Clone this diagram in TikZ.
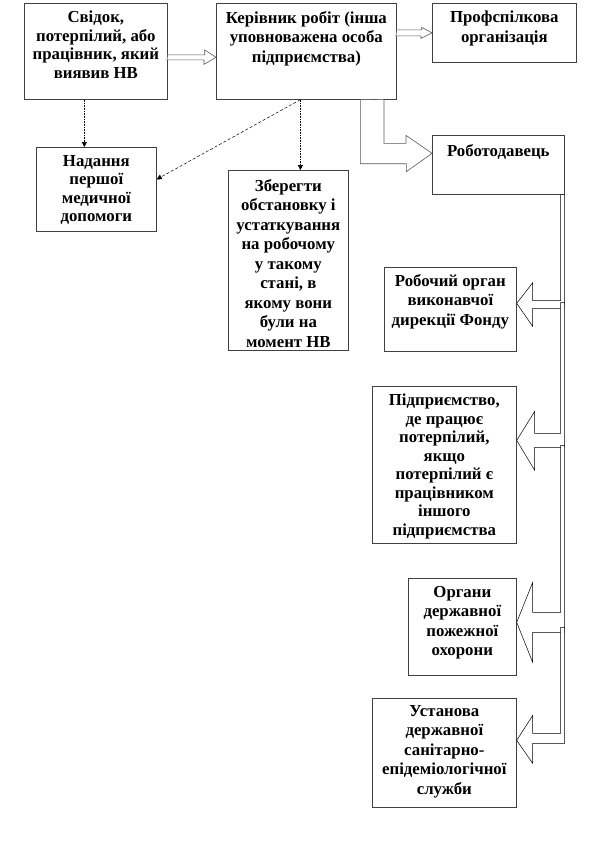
\documentclass[tikz,border=0pt]{standalone}
\usepackage{fontspec}
\setmainfont{Liberation Serif}
\usetikzlibrary{calc,arrows.meta}
\begin{document}
\begin{tikzpicture}[x=1pt,y=-1pt,
  box/.style={draw=black!75,line width=0.7pt,anchor=north west,inner sep=0pt},
  txt/.style={anchor=north,align=center,inner sep=0pt,font=\fontsize{16.8}{19.5}\selectfont\bfseries},
  tighttxt/.style={txt,font=\fontsize{16.8}{18.5}\selectfont\bfseries},
  blk/.style={draw=black!65,line width=0.6pt,fill=white,line join=miter},
  trk/.style={draw=black,line width=0.5pt,fill=white},
  dotarr/.style={draw=black,line width=0.6pt,densely dotted,-{Triangle[length=5pt,width=5pt]}},
  dasharr/.style={draw=black,line width=0.5pt,densely dashed,-{Triangle[length=5pt,width=5pt]}}]
\useasboundingbox (0,0) rectangle (612,843);
\fill[white] (0,0) rectangle (612,843);
% boxes
\node[box,minimum width=143pt,minimum height=96pt] (b1) at (24,3) {};
\node[box,minimum width=180pt,minimum height=96pt] (b2) at (216,3) {};
\node[box,minimum width=144pt,minimum height=59pt] (b3) at (432,3) {};
\node[box,minimum width=132pt,minimum height=59pt] (b4) at (432,135) {};
\node[box,minimum width=120pt,minimum height=84pt] (b5) at (36,147) {};
\node[box,minimum width=120pt,minimum height=180pt] (b6) at (228,170) {};
\node[box,minimum width=132pt,minimum height=84pt] (b7) at (384,267) {};
\node[box,minimum width=144pt,minimum height=157pt] (b8) at (372,386) {};
\node[box,minimum width=108pt,minimum height=97pt] (b9) at (408,578) {};
\node[box,minimum width=144pt,minimum height=109pt] (b10) at (372,698) {};
% texts
\node[tighttxt] (t1) at ($(b1.north)+(0,8)$) {Свідок,\\потерпілий, або\\працівник, який\\виявив НВ};
\node[txt] (t2) at ($(b2.north)+(0,8)$) {Керівник робіт (інша\\уповноважена особа\\підприємства)};
\node[txt] (t3) at ($(b3.north)+(0,8)$) {Профспілкова\\організація};
\node[txt] (t4) at ($(b4.north)+(0,9)$) {Роботодавець};
\node[tighttxt] (t5) at ($(b5.north)+(0,8)$) {Надання\\першої\\медичної\\допомоги};
\node[txt] (t6) at ($(b6.north)+(0,9)$) {Зберегти\\обстановку і\\устаткування\\на робочому\\у такому\\стані, в\\якому вони\\були на\\момент НВ};
\node[txt] (t7) at ($(b7.north)+(0,7)$) {Робочий орган\\виконавчої\\дирекції Фонду};
\node[tighttxt] (t8) at ($(b8.north)+(0,8)$) {Підприємство,\\де працює\\потерпілий,\\якщо\\потерпілий є\\працівником\\іншого\\підприємства};
\node[txt] (t9) at ($(b9.north)+(0,8)$) {Органи\\державної\\пожежної\\охорони};
\node[txt] (t10) at ($(b10.north)+(0,7)$) {Установа\\державної\\санітарно-\\епідеміологічної\\служби};
% block arrows at top
\draw[blk] ($(b1.east)+(0,3.5)$) -- ++(37,0) -- ++(0,-5) -- ($(b2.west)+(0,6)$) -- ++(-12,7) -- ++(0,-4.5) -- ++(-37,0) -- cycle;
\draw[blk] ($(b2.east)+(0,-21.5)$) -- ++(25,0) -- ++(0,-2.5) -- (b3.west) -- ++(-11,5.5) -- ++(0,-2.5) -- ++(-25,0) -- cycle;
\draw[blk] ($(b2.south)+(54,0)$) -- ++(0,64) -- ++(46,0) -- ++(0,8) -- ($(b4.west)+(0,-11.5)$) -- ++(-26,-18) -- ++(0,8) -- ++(-22,0) -- ++(0,-44) -- cycle;
% thin arrows
\draw[dotarr] ($(b1.south)+(-11.5,0)$) coordinate (p4) -- (p4 |- b5.north);
\coordinate (p6) at ($(b2.south)+(-6,0)$);
\draw[dasharr] (p6) -- ($(b5.east)+(0,-10)$);
\draw[dotarr] (p6) -- (p6 |- b6.north);
% trunk arrows on the right
\draw[trk] ($(b4.south east)+(-4,0)$) -- ++(0,106) -- ++(-28,0) -- ++(0,-18) -- ($(b7.east)+(0,-6)$) -- ++(16,23) -- ++(0,-18) -- ++(32,0) coordinate (a1r) -- (b4.south east) -- cycle;
\draw[trk] ($(a1r)+(-4,-6)$) -- ++(0,131) -- ++(-26,0) -- ++(0,-22) -- ($(b8.east)+(0,-24.5)$) -- ++(18,30) -- ++(0,-23) -- ++(30,0) coordinate (a2r) -- ++(0,-145) -- cycle;
\draw[trk] ($(a2r)+(-4,-2)$) -- ++(0,167) -- ++(-28,0) -- ++(0,-30) -- ($(b9.east)+(0,-4.5)$) -- ++(16,40) -- ++(0,-30) -- ++(32,0) coordinate (a3r) -- ++(0,-187) -- cycle;
\draw[trk] ($(a3r)+(-4,-5)$) -- ++(0,106) -- ++(-28,0) -- ++(0,-18) -- ($(b10.east)+(0,-12.5)$) -- ++(16,23) -- ++(0,-20) -- ++(32,0) coordinate (a4r) -- ++(0,-116) -- cycle;
\end{tikzpicture}
\end{document}
